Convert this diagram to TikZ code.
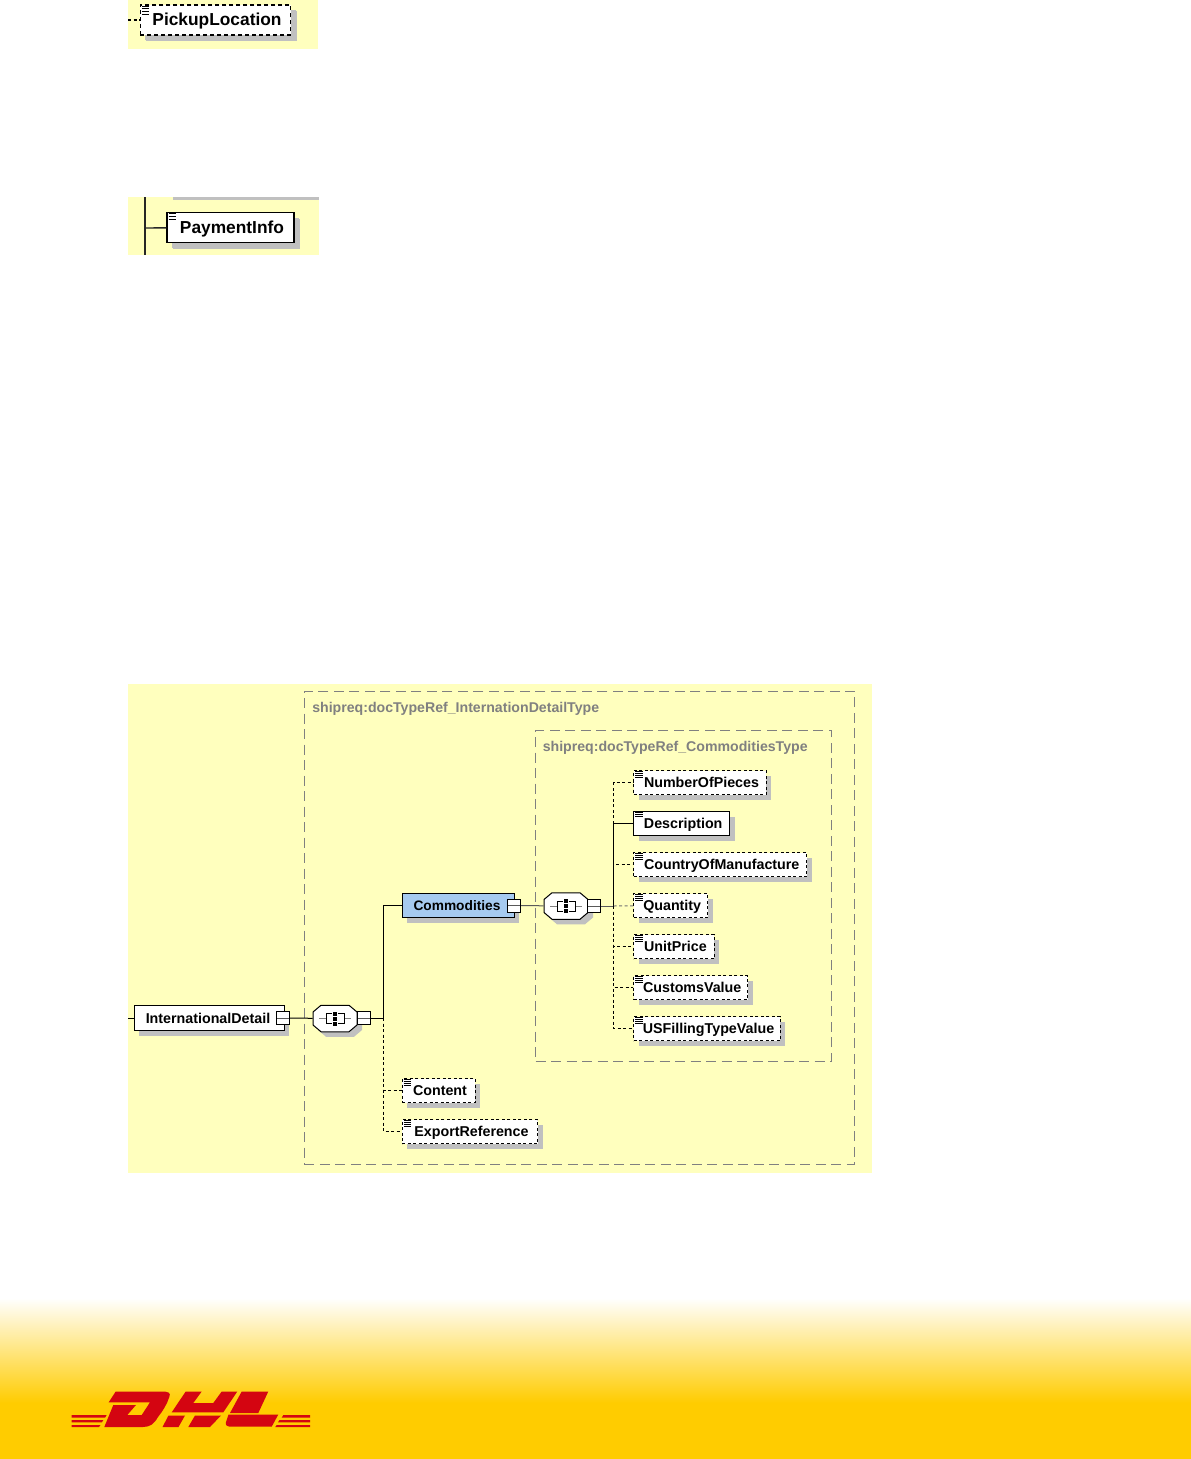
\documentclass[tikz,border=0pt]{standalone}
\usepackage{fontspec}
\setmainfont{Liberation Sans}
\usetikzlibrary{positioning,shadows}
\definecolor{bg_yellow}{HTML}{FFFFBE}
\definecolor{shadow_gray}{HTML}{C0C0C0}
\definecolor{group_gray}{HTML}{808080}
\definecolor{sel_blue}{HTML}{A6CAF0}
\definecolor{band_yellow}{HTML}{FFCC00}
\definecolor{dhl_red}{HTML}{D40511}
\newcommand{\px}{0.75pt}
\newcommand{\octpath}{(-22,-6.5) -- (-14,-13.25) -- (14,-13.25) -- (22,-6.5) -- (22,6.5) -- (14,13.25) -- (-14,13.25) -- (-22,6.5) -- cycle}
\newcommand{\seqnode}[2]{
  \node[seq_style] (#1) at (#2) {};
  \begin{scope}[shift={(#1.center)}]
    \fill[shadow_gray] ([shift={(5,5)}]-22,-6.5) -- ([shift={(5,5)}]-14,-13.25) -- ([shift={(5,5)}]14,-13.25) -- ([shift={(5,5)}]22,-6.5)
      -- ([shift={(5,5)}]22,6.5) -- ([shift={(5,5)}]14,13.25) -- ([shift={(5,5)}]-14,13.25) -- ([shift={(5,5)}]-22,6.5) -- cycle;
    \draw[draw=black, fill=white, line width=1*\px] \octpath;
    \draw[group_gray, line width=1*\px] (-16,0) -- (-9,0) (9,0) -- (16,0);
    \draw[black, line width=1*\px] (-3,-5) -- (-9,-5) -- (-9,5) -- (-3,5);
    \draw[black, line width=1*\px] (3,-5) -- (9,-5) -- (9,5) -- (3,5);
    \foreach \k in {-5,0,5}
      \fill[black] (-2,\k-2) rectangle (2,\k+2);
  \end{scope}
}
\tikzset{
  icon_style/.style 2 args={path picture={
    \foreach \i in {1,...,#1}
      \draw[black, solid, line width=0.5pt]
        ([shift={(1.5,{(\i-1)*#2+1})}]path picture bounding box.north west) -- ++(7.5,0);
  }},
  box_style/.style={rectangle, draw=black, fill=white, line width=1*\px, inner sep=0pt,
    minimum height=24*\px, text height=9.2pt, text depth=1.4pt, font=\fontsize{10.7}{12}\selectfont\bfseries,
    general shadow={fill=shadow_gray, shadow xshift=5*\px, shadow yshift=-5*\px}},
  req_style/.style={box_style, icon_style={3}{2}, execute at begin node=\hspace*{2.25pt}},
  opt_style/.style={box_style, dash pattern=on 3*\px off 2.5*\px, icon_style={4}{2}, execute at begin node=\hspace*{2.25pt}},
  big_style/.style={font=\fontsize{13}{15}\selectfont\bfseries, minimum height=30*\px, line width=1.4*\px,
    text height=11pt, text depth=2.2pt,
    general shadow={fill=shadow_gray, shadow xshift=6*\px, shadow yshift=-6.5*\px}},
  minus_style/.style={rectangle, draw=black, fill=white, line width=1*\px, inner sep=0pt,
    minimum size=13*\px, path picture={
      \draw[black!65, line width=1*\px] (path picture bounding box.west) -- (path picture bounding box.east);
  }},
  seq_style/.style={rectangle, inner sep=0pt, minimum width=44*\px, minimum height=26.5*\px},
  group_style/.style={rectangle, draw=group_gray, line width=1*\px, dash pattern=on 10*\px off 5.5*\px, inner sep=0pt},
  group_label/.style={anchor=west, inner sep=0pt, text=group_gray, font=\fontsize{10.6}{12}\selectfont\bfseries},
  edge_style/.style={draw=black, line width=1*\px},
  thin_edge/.style={draw=black!65, line width=1*\px},
  thick_edge/.style={draw=black!85, line width=1.4*\px},
  dash_edge/.style={draw=black, line width=1*\px, dash pattern=on 3*\px off 2.5*\px},
}
\begin{document}
\begin{tikzpicture}[x=0.75pt, y=-0.75pt]
\useasboundingbox (0,0) rectangle (1191,1459);

% yellow panels
\fill[bg_yellow] (128,0) rectangle (318,49);
\fill[bg_yellow] (128,197) rectangle (319,255);
\fill[shadow_gray] (173,197) rectangle (319,200);
\fill[bg_yellow] (128,684) rectangle (872,1173);

% footer band
\shade[top color=white, bottom color=band_yellow] (0,1298) rectangle (1191,1403);
\fill[band_yellow] (0,1403) rectangle (1191,1459);

% groups
\node[group_style, minimum width=550.5*\px, minimum height=473*\px] (g1) at (579.5,927.5) {};
\node[group_style, minimum width=296*\px, minimum height=331*\px] (g2) at (683.7,895.5) {};
\node[group_label] (g1_label) at (312,708.5) {shipreq:docTypeRef\_InternationDetailType};
\node[group_label] (g2_label) at (542.5,747.5) {shipreq:docTypeRef\_CommoditiesType};

% top crops
\coordinate (pick_in) at (128,20);
\node[opt_style, big_style, icon_style={4}{2.7}, dash pattern=on 4*\px off 3*\px, minimum width=150.5*\px] (pickup) at (215.5,20) {PickupLocation};
\coordinate (pay_top) at (145,197);
\coordinate (pay_bot) at (145,255);
\coordinate (pay_mid) at (145,228);
\node[req_style, big_style, icon_style={3}{2.7}, minimum width=127*\px] (payment) at (230.5,227.5) {PaymentInfo};

% main tree
\coordinate (intl_in) at (128,1018);
\node[box_style, minimum width=150*\px, minimum height=25*\px] (intl) at (209,1018) {\hspace*{-1.5pt}InternationalDetail};
\node[minus_style] (intl_m) at (283.2,1018) {};
\seqnode{seq1}{335,1018.5}
\node[minus_style] (seq1_m) at (363.5,1018) {};
\coordinate (t1) at (383.5,1018);

\node[box_style, fill=sel_blue, minimum width=112*\px, font=\fontsize{10.3}{12}\selectfont\bfseries] (comm) at (458,905.5) {\hspace*{-1.5pt}Commodities};
\node[minus_style] (comm_m) at (514.2,905.5) {};
\seqnode{seq2}{566,906}
\node[minus_style] (seq2_m) at (594,906) {};
\coordinate (t2) at (613.5,906);

\node[opt_style, minimum width=73*\px] (content) at (438.5,1090.5) {Content};
\node[opt_style, minimum width=135.5*\px] (export) at (470,1131.5) {ExportReference};

\node[opt_style, minimum width=132.5*\px] (pieces) at (700,782.5) {NumberOfPieces};
\node[req_style, minimum width=96*\px] (descr) at (681.7,823.5) {Description};
\node[opt_style, minimum width=173*\px] (country) at (720.2,864.5) {CountryOfManufacture};
\node[opt_style, minimum width=74*\px] (quantity) at (670.7,905.5) {Quantity};
\node[opt_style, minimum width=80.5*\px] (price) at (674,946.5) {UnitPrice};
\node[opt_style, minimum width=114*\px] (customs) at (690.7,987.5) {CustomsValue};
\node[opt_style, minimum width=146.5*\px] (usfil) at (707,1028.5) {USFillingTypeValue};

% connectors
\draw[dash_edge, line width=1.4*\px] (pick_in) -- (pickup);
\draw[thick_edge] (pay_top) -- (pay_bot);
\draw[thick_edge] (pay_mid) -- (payment);
\draw[edge_style] (intl_in) -- (intl);
\draw[edge_style] (intl_m) -- (seq1);
\draw[edge_style] (seq1_m) -- (t1);
\draw[edge_style] (t1) |- (comm);
\draw[dash_edge] (t1) |- (content);
\draw[dash_edge] (t1) |- (export);
\draw[thin_edge] (comm_m) -- (seq2);
\draw[thin_edge] (seq2_m) -- (t2);
\draw[edge_style] (t2) |- (descr);
\draw[dash_edge] (t2) |- (pieces);
\draw[dash_edge] (t2) |- (country);
\draw[dash_edge, draw=black!55] (t2) -- (quantity);
\draw[dash_edge] (t2) |- (price);
\draw[dash_edge] (t2) |- (customs);
\draw[dash_edge] (t2) |- (usfil);

% logo
\fill[dhl_red] (71.7,1415) -- (106.7,1415) -- (105,1417.7) -- (71.7,1417.7) -- cycle;
\fill[dhl_red] (71.7,1420) -- (103.3,1420) -- (102,1422.3) -- (71.7,1422.3) -- cycle;
\fill[dhl_red] (71.7,1425) -- (100.5,1425) -- (99,1427) -- (71.7,1427) -- cycle;
\fill[dhl_red] (108.7,1402.3) -- (115.7,1391.5) -- (161.7,1391.5)
  .. controls (169,1391.5) and (171,1393) .. (169.3,1397)
  .. controls (167,1404) and (163,1411) .. (158,1417)
  .. controls (154,1424) and (150,1427) .. (143,1427)
  -- (104.3,1427) -- (113.3,1405) -- (136,1405) -- (127.3,1415) -- (141.7,1415) -- (150,1402.3) -- cycle;
\fill[dhl_red] (171.7,1412.3) -- (185.7,1391.5) -- (201.7,1391.5) -- (193.3,1403) -- (213.3,1403) -- (221.7,1391.5)
  -- (237.3,1391.5) -- (223.3,1412.3) -- cycle;
\fill[dhl_red] (168.5,1415.5) -- (185,1415.5) -- (178.5,1427) -- (162.5,1427) -- cycle;
\fill[dhl_red] (195,1415.5) -- (221,1415.5) -- (210,1427) -- (188.3,1427) -- cycle;
\fill[dhl_red] (241.7,1391.5) -- (268.3,1391.5) -- (258.3,1413) -- (230,1413) -- cycle;
\fill[dhl_red] (228.5,1414.5) -- (278.3,1414.5) -- (271.7,1426.7) -- (231,1426.7)
  .. controls (227,1426.7) and (225,1425) .. (226,1422) -- cycle;
\fill[dhl_red] (283.3,1415) -- (310,1415) -- (310,1417.7) -- (281.7,1417.7) -- cycle;
\fill[dhl_red] (279.5,1420) -- (310,1420) -- (310,1422.3) -- (278,1422.3) -- cycle;
\fill[dhl_red] (276.7,1425) -- (310,1425) -- (310,1427) -- (275.3,1427) -- cycle;
\end{tikzpicture}
\end{document}
